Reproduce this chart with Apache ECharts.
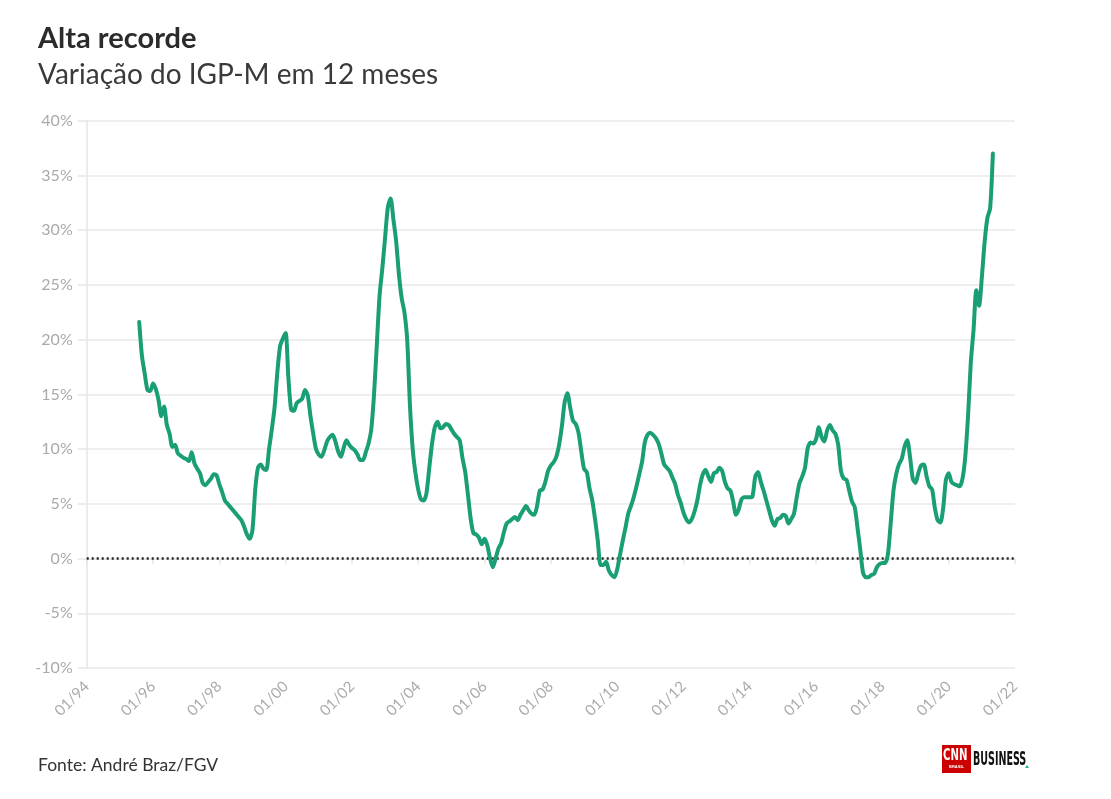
<!DOCTYPE html>
<html>
<head>
<meta charset="utf-8">
<script src="https://cdn.jsdelivr.net/npm/echarts@6/dist/echarts.min.js"></script>
<style>
html,body{margin:0;padding:0;background:#fff;}
#chart{width:1111px;height:799px;}
</style>
</head>
<body>
<div id="chart"></div>
<script>
// Monthly 12-month IGP-M variation (%), first value = Aug 1995, last = May 2021
var startYear = 1995, startMonth = 8;
var v1995 = [21.6, 18.5, 16.9, 15.4, 15.3];
var v1996 = [16.0, 15.5, 14.5, 13.0, 13.9, 12.2, 11.4, 10.2, 10.4, 9.6, 9.4, 9.2];
var v1997 = [9.1, 8.9, 9.7, 8.7, 8.2, 7.8, 6.9, 6.7, 7.0, 7.3, 7.7, 7.6];
var v1998 = [6.8, 6.1, 5.3, 5.0, 4.7, 4.4, 4.1, 3.8, 3.5, 2.9, 2.2, 1.8];
var v1999 = [2.6, 6.3, 8.3, 8.6, 8.2, 8.1, 10.0, 11.8, 13.8, 17.0, 19.4, 20.1];
var v2000 = [20.6, 16.5, 13.6, 13.5, 14.2, 14.4, 14.6, 15.4, 14.9, 13.0, 11.4, 10.0];
var v2001 = [9.5, 9.3, 9.9, 10.7, 11.1, 11.3, 10.7, 9.8, 9.3, 10.1, 10.8, 10.4];
var v2002 = [10.1, 9.9, 9.5, 9.0, 9.0, 9.7, 10.5, 11.8, 15.0, 19.5, 24.0, 26.5];
var v2003 = [29.3, 32.1, 32.9, 31.0, 29.0, 26.0, 23.8, 22.5, 20.0, 14.0, 10.0, 7.8];
var v2004 = [6.3, 5.4, 5.3, 6.0, 8.3, 10.5, 12.0, 12.5, 11.9, 12.0, 12.3, 12.2];
var v2005 = [11.8, 11.4, 11.1, 10.8, 9.2, 7.9, 5.8, 3.6, 2.3, 2.2, 1.9, 1.3];
var v2006 = [1.8, 1.2, 0.0, -0.8, 0.0, 0.9, 1.4, 2.4, 3.2, 3.4, 3.6, 3.8];
var v2007 = [3.5, 4.0, 4.4, 4.8, 4.4, 4.1, 4.0, 4.8, 6.2, 6.3, 7.0, 8.0];
var v2008 = [8.5, 8.8, 9.3, 10.4, 12.1, 14.3, 15.1, 13.8, 12.6, 12.3, 11.5, 9.8];
var v2009 = [8.2, 7.9, 6.4, 5.3, 3.6, 1.6, -0.6, -0.6, -0.3, -1.1, -1.5, -1.7];
var v2010 = [-1.0, 0.3, 1.6, 2.8, 4.1, 4.8, 5.6, 6.6, 7.7, 8.8, 10.6, 11.3];
var v2011 = [11.5, 11.3, 11.0, 10.5, 9.6, 8.6, 8.3, 8.0, 7.4, 6.8, 5.8, 5.1];
var v2012 = [4.2, 3.6, 3.3, 3.6, 4.3, 5.3, 6.7, 7.7, 8.1, 7.5, 7.0, 7.8];
var v2013 = [7.9, 8.3, 8.0, 7.0, 6.4, 6.2, 5.2, 4.0, 4.5, 5.4, 5.6, 5.6];
var v2014 = [5.6, 5.7, 7.5, 7.9, 7.0, 6.2, 5.3, 4.4, 3.5, 3.0, 3.6, 3.7];
var v2015 = [4.0, 3.9, 3.2, 3.6, 4.1, 5.6, 6.9, 7.5, 8.3, 10.1, 10.6, 10.5];
var v2016 = [10.9, 12.0, 11.1, 10.7, 11.7, 12.2, 11.7, 11.4, 10.4, 8.0, 7.3, 7.2];
var v2017 = [6.2, 5.2, 4.7, 2.8, 0.8, -1.3, -1.7, -1.7, -1.5, -1.4, -0.8, -0.5];
var v2018 = [-0.4, -0.4, 0.4, 3.2, 6.2, 7.7, 8.6, 9.1, 10.2, 10.8, 9.3, 7.3];
var v2019 = [6.9, 7.8, 8.5, 8.6, 7.5, 6.6, 6.3, 4.6, 3.5, 3.3, 4.6, 7.2];
var v2020 = [7.8, 7.0, 6.8, 6.7, 6.6, 7.3, 9.3, 13.0, 17.9, 20.9, 24.5, 23.1];
var v2021 = [25.7, 28.9, 31.1, 32.0, 37.0];

var yTicks = [-10, -5, 0, 5, 10, 15, 20, 25, 30, 35, 40];
var xTickYears = [1994, 1996, 1998, 2000, 2002, 2004, 2006, 2008, 2010, 2012, 2014, 2016, 2018, 2020, 2022];

var allValues = [].concat(v1995, v1996, v1997, v1998, v1999, v2000, v2001, v2002, v2003, v2004,
  v2005, v2006, v2007, v2008, v2009, v2010, v2011, v2012, v2013, v2014, v2015, v2016, v2017,
  v2018, v2019, v2020, v2021);

var seriesData = allValues.map(function (v, i) {
  var m = (startMonth - 1) + i;
  return [startYear + m / 12, v];
});

var FONT = 'Lato, "Noto Sans", sans-serif';
var chart = echarts.init(document.getElementById('chart'));
chart.setOption({
  animation: false,
  backgroundColor: '#fff',
  textStyle: { fontFamily: FONT },
  title: [
    { text: 'Alta recorde', left: 33, top: 19,
      textStyle: { fontSize: 29, fontWeight: 'bold', color: '#2b2b2b', fontFamily: FONT } },
    { text: 'Variação do IGP-M em 12 meses', left: 33, top: 56,
      textStyle: { fontSize: 28, fontWeight: 'normal', color: '#3a3a3a', fontFamily: FONT } },
    { text: 'Fonte: André Braz/FGV', left: 33, top: 751,
      textStyle: { fontSize: 17.5, fontWeight: 'normal', color: '#333', fontFamily: FONT } }
  ],
  grid: { left: 86.7, right: 96, top: 120.7, bottom: 131, containLabel: false },
  xAxis: {
    type: 'value',
    min: 1994, max: 2022, interval: 2,
    axisLine: { show: true, lineStyle: { color: '#e6e6e6', width: 1.5 } },
    axisTick: { show: true, length: 6, lineStyle: { color: '#e6e6e6', width: 1.5 } },
    splitLine: { show: false },
    axisLabel: {
      rotate: 45, color: '#aaaaaa', fontSize: 15, margin: 16, fontFamily: FONT,
      formatter: function (v) {
        var yy = String(Math.round(v) % 100);
        if (yy.length < 2) yy = '0' + yy;
        return xTickYears.indexOf(Math.round(v)) >= 0 ? '01/' + yy : '';
      }
    }
  },
  yAxis: {
    type: 'value',
    min: -10, max: 40, interval: 5,
    axisLine: { show: true, lineStyle: { color: '#e6e6e6', width: 1.5 } },
    axisTick: { show: true, length: 9, lineStyle: { color: '#e6e6e6', width: 1.5 } },
    splitLine: { show: true, lineStyle: { color: '#e9e9e9', width: 1.5 } },
    axisLabel: {
      color: '#aaaaaa', fontSize: 16, margin: 14, fontFamily: FONT,
      formatter: function (v) { return yTicks.indexOf(v) >= 0 ? v + '%' : ''; }
    }
  },
  series: [{
    type: 'line',
    data: seriesData,
    showSymbol: false,
    smooth: 0.25,
    lineStyle: { color: '#1a9e75', width: 4, cap: 'round', join: 'round' },
    z: 3,
    markLine: {
      silent: true,
      symbol: ['none', 'none'],
      label: { show: false },
      lineStyle: { color: '#222', type: [2, 3], width: 2.5 },
      data: [{ yAxis: 0 }],
      z: 2
    }
  }],
  graphic: [
    { type: 'rect', shape: { x: 942, y: 745, width: 29, height: 28 }, style: { fill: '#cc0000' } },
    { type: 'text', x: 943, y: 749, scaleX: 0.75, style: { text: 'CNN', fill: '#fff', font: 'bold 15px "DejaVu Sans Condensed", sans-serif', textAlign: 'left', textVerticalAlign: 'top' } },
    { type: 'text', x: 956.5, y: 767, style: { text: 'BRASIL', fill: '#fff', font: 'bold 4px sans-serif', textAlign: 'center', textVerticalAlign: 'middle' } },
    { type: 'text', x: 973, y: 750, scaleX: 0.53, style: { text: 'BUSINESS', fill: '#111', font: 'bold 20px "DejaVu Sans Condensed", "Liberation Sans Narrow", sans-serif', textAlign: 'left', textVerticalAlign: 'top' } },
    { type: 'polygon', shape: { points: [[1025, 768], [1029, 768], [1027, 765]] }, style: { fill: '#1fb39a' } }
  ]
});
</script>
</body>
</html>
